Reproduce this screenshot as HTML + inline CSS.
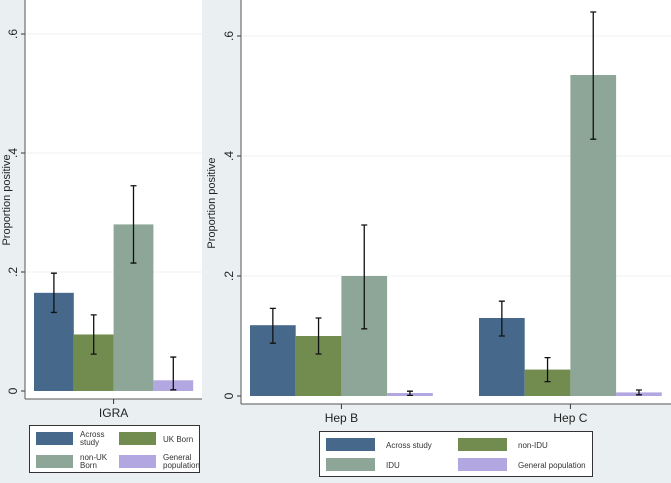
<!DOCTYPE html>
<html><head><meta charset="utf-8"><style>
body{margin:0;width:671px;height:478px;overflow:hidden;background:#eaf0f2;font-family:"Liberation Sans",sans-serif}
</style></head><body>
<svg width="671" height="478" id="svg" font-family="Liberation Sans, sans-serif">
<rect x="0" y="0" width="671" height="478" fill="#eaf0f2"/>
</svg>
<script>
const colors=["#46698b","#728b4f","#8da698","#b2a7e0"];
const leftCats=["IGRA"];
const leftVals=[[0.165,0.095,0.28,0.018]];
const leftLo=[[0.132,0.062,0.215,0.002]];
const leftHi=[[0.198,0.128,0.345,0.057]];
const rightCats=["Hep B","Hep C"];
const rightVals=[[0.118,0.1,0.2,0.005],[0.13,0.044,0.535,0.006]];
const rightLo=[[0.088,0.07,0.112,0.001],[0.1,0.024,0.428,0.002]];
const rightHi=[[0.146,0.13,0.285,0.008],[0.158,0.064,0.64,0.01]];
const ticks=[0,0.2,0.4,0.6];
const tickLabels=["0",".2",".4",".6"];
const leftLegend=[["Across","study"],["UK Born"],["non-UK","Born"],["General","population"]];
const rightLegend=["Across study","non-IDU","IDU","General population"];
const svg=document.getElementById('svg');
const NS="http://www.w3.org/2000/svg";
function mk(t,a,p){const e=document.createElementNS(NS,t);for(const k in a)e.setAttribute(k,a[k]);(p||svg).appendChild(e);return e;}
function panel(p){
  const y=v=>p.y0-v*p.k;
  const bg=mk('rect',{x:p.x0,y:0,width:p.x1-p.x0,height:p.axisY,fill:'#fff'});
  
  
  ticks.forEach((t,i)=>{
    if(t>0){const g=mk('line',{x1:p.x0,x2:p.x1,y1:y(t),y2:y(t),stroke:'#eef2f4','stroke-width':1});
    }
    mk('line',{x1:p.x0-4,x2:p.x0,y1:y(t),y2:y(t),stroke:'#333'});
    const tx=mk('text',{x:p.x0-8,y:y(t),'font-size':12,fill:'#222','text-anchor':'middle',transform:`rotate(-90 ${p.x0-8} ${y(t)})`});
    tx.textContent=tickLabels[i];
    
  });
  const yt=mk('text',{x:p.titleX,y:p.titleY,'font-size':11,fill:'#222','text-anchor':'middle',transform:`rotate(-90 ${p.titleX} ${p.titleY})`});
  yt.textContent='Proportion positive';
  
  mk('line',{x1:p.x0,x2:p.x0,y1:0,y2:p.axisY,stroke:'#555'});
  mk('line',{x1:p.x0,x2:p.x1,y1:p.axisY,y2:p.axisY,stroke:'#555'});
  p.cats.forEach((c,ci)=>{
    const gx=p.gStart[ci];
    p.vals[ci].forEach((v,si)=>{
      const bx=gx+si*p.bw;
      const r=mk('rect',{x:bx,y:y(v),width:p.bw,height:p.y0-y(v),fill:colors[si]});
      
      
      const cx=bx+p.bw/2;
      const e=mk('path',{d:`M${cx},${y(p.hi[ci][si])}V${y(p.lo[ci][si])}M${cx-3},${y(p.hi[ci][si])}H${cx+3}M${cx-3},${y(p.lo[ci][si])}H${cx+3}`,stroke:'#111','stroke-width':1.3,fill:'none'});
      
    });
    const mx=gx+p.bw*2;
    mk('line',{x1:mx,x2:mx,y1:p.axisY,y2:p.axisY+5,stroke:'#333'});
    const tl=mk('text',{x:mx,y:p.axisY+18,'font-size':12,fill:'#222','text-anchor':'middle'});
    tl.textContent=c;
    
  });
}
panel({name:'igra',x0:25,x1:202,y0:391,k:595,axisY:399,titleX:10,titleY:200,cats:leftCats,vals:leftVals,lo:leftLo,hi:leftHi,gStart:[34],bw:39.8});
panel({name:'hep',x0:241,x1:671,y0:396,k:600,axisY:404,titleX:215,titleY:203,cats:rightCats,vals:rightVals,lo:rightLo,hi:rightHi,gStart:[250,479],bw:45.7});
const lb=mk('rect',{x:29.5,y:425.5,width:170,height:47,fill:'#fff',stroke:'#333'});

leftLegend.forEach((lab,i)=>{
  const cx=i%2, ry=Math.floor(i/2);
  const x=36+cx*83, y=432+ry*23;
  const s=mk('rect',{x:x,y:y,width:37,height:13,fill:colors[i]});
  
  const t=mk('text',{x:x+44,y:lab.length>1?y+5:y+10,'font-size':8,fill:'#333'});
  
  lab.forEach((l,j)=>{const ts=mk('tspan',{x:x+44,dy:j?8:0},t);ts.textContent=l;});
});
const rb=mk('rect',{x:319.5,y:431.5,width:273,height:45,fill:'#fff',stroke:'#333'});

rightLegend.forEach((lab,i)=>{
  const cx=i%2, ry=Math.floor(i/2);
  const x=326+cx*132, y=438+ry*20;
  const s=mk('rect',{x:x,y:y,width:49,height:13,fill:colors[i]});
  
  const t=mk('text',{x:x+60,y:y+10,'font-size':8,fill:'#333'});
  t.textContent=lab;
  
});
</script>
</body></html>
